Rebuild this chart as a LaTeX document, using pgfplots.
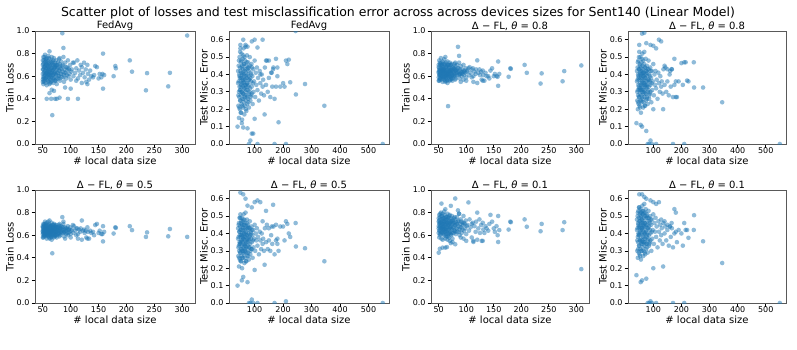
\documentclass[border=0pt]{standalone}
\usepackage{pgfplots}
\pgfplotsset{compat=1.18}
\usepackage{pgfplotstable}
\usepackage{fontspec}
\setmainfont{DejaVu Sans}
\definecolor{tabblue}{HTML}{1F77B4}

\pgfplotstableread{
x fa t8 t5 t1
50 0.62 0.63 0.64 0.66
50 0.70 0.68 0.67 0.72
50 0.57 0.59 0.61 0.62
51 0.77 0.74 0.70 0.78
51 0.66 0.65 0.65 0.70
51 0.53 0.56 0.58 0.58
52 0.74 0.72 0.69 0.76
52 0.60 0.61 0.62 0.64
52 0.68 0.66 0.66 0.71
53 0.56 0.58 0.60 0.61
53 0.72 0.70 0.68 0.74
53 0.64 0.64 0.64 0.68
54 0.79 0.76 0.72 0.80
54 0.58 0.60 0.61 0.63
54 0.69 0.67 0.66 0.71
55 0.62 0.62 0.63 0.66
55 0.75 0.72 0.70 0.77
55 0.54 0.57 0.59 0.57
56 0.67 0.66 0.66 0.70
56 0.71 0.69 0.68 0.74
56 0.59 0.60 0.61 0.63
57 0.63 0.64 0.64 0.67
57 0.76 0.73 0.71 0.79
57 0.52 0.55 0.57 0.56
58 0.65 0.64 0.65 0.68
58 0.70 0.68 0.67 0.73
58 0.57 0.59 0.60 0.62
59 0.61 0.62 0.63 0.65
59 0.73 0.71 0.69 0.75
59 0.66 0.66 0.65 0.70
60 0.55 0.57 0.59 0.60
60 0.68 0.67 0.66 0.72
60 0.78 0.75 0.72 0.81
61 0.62 0.63 0.63 0.66
61 0.59 0.60 0.62 0.63
61 0.72 0.70 0.68 0.75
62 0.64 0.64 0.64 0.69
62 0.53 0.56 0.58 0.57
62 0.82 0.77 0.73 0.83
63 0.69 0.68 0.67 0.72
63 0.60 0.61 0.62 0.64
63 0.75 0.72 0.69 0.76
64 0.57 0.59 0.60 0.61
64 0.66 0.65 0.65 0.70
65 0.71 0.69 0.68 0.74
65 0.63 0.63 0.64 0.67
65 0.55 0.57 0.59 0.59
66 0.67 0.66 0.66 0.71
66 0.77 0.73 0.71 0.79
67 0.61 0.62 0.63 0.65
67 0.73 0.70 0.69 0.76
68 0.58 0.60 0.61 0.62
68 0.65 0.65 0.65 0.69
69 0.70 0.68 0.67 0.73
69 0.54 0.57 0.59 0.58
70 0.62 0.62 0.63 0.66
70 0.76 0.72 0.70 0.78
71 0.67 0.66 0.66 0.70
71 0.59 0.60 0.62 0.63
72 0.72 0.70 0.68 0.75
72 0.64 0.64 0.64 0.68
73 0.56 0.58 0.60 0.60
73 0.69 0.67 0.67 0.72
74 0.61 0.62 0.63 0.65
74 0.74 0.71 0.69 0.77
75 0.66 0.65 0.65 0.70
75 0.53 0.56 0.58 0.57
76 0.70 0.68 0.67 0.73
77 0.63 0.63 0.64 0.67
77 0.58 0.60 0.61 0.62
78 0.68 0.67 0.66 0.71
79 0.75 0.71 0.69 0.76
79 0.60 0.61 0.62 0.64
80 0.65 0.65 0.65 0.69
80 0.71 0.69 0.68 0.74
81 0.56 0.58 0.60 0.61
82 0.67 0.66 0.66 0.70
82 0.62 0.63 0.63 0.66
83 0.73 0.70 0.68 0.76
84 0.59 0.61 0.62 0.63
85 0.69 0.67 0.67 0.72
86 0.64 0.64 0.64 0.68
87 0.77 0.72 0.70 0.79
88 0.61 0.62 0.63 0.65
88 0.55 0.58 0.59 0.60
89 0.66 0.66 0.65 0.70
90 0.72 0.69 0.67 0.74
91 0.63 0.63 0.64 0.67
92 0.58 0.60 0.61 0.62
93 0.68 0.66 0.66 0.71
94 0.65 0.64 0.65 0.69
95 0.74 0.70 0.68 0.77
96 0.60 0.61 0.62 0.64
97 0.66 0.65 0.65 0.70
98 0.62 0.63 0.63 0.66
99 0.70 0.67 0.67 0.73
100 0.57 0.59 0.61 0.61
101 0.64 0.64 0.64 0.68
50 0.66 0.64 0.63 0.68
50 0.74 0.70 0.68 0.75
51 0.59 0.61 0.62 0.64
51 0.71 0.67 0.67 0.73
52 0.63 0.62 0.64 0.67
52 0.55 0.58 0.60 0.60
53 0.68 0.65 0.65 0.71
53 0.77 0.71 0.70 0.79
54 0.61 0.63 0.62 0.66
54 0.65 0.61 0.63 0.69
55 0.70 0.66 0.66 0.72
55 0.58 0.60 0.61 0.62
56 0.63 0.65 0.63 0.67
56 0.75 0.70 0.69 0.77
57 0.67 0.63 0.65 0.70
57 0.60 0.62 0.62 0.65
58 0.72 0.66 0.66 0.75
58 0.62 0.64 0.63 0.66
59 0.56 0.59 0.60 0.61
59 0.69 0.65 0.66 0.72
60 0.64 0.66 0.64 0.68
60 0.61 0.59 0.62 0.65
61 0.76 0.71 0.70 0.78
61 0.66 0.62 0.64 0.70
62 0.58 0.61 0.61 0.63
62 0.70 0.65 0.67 0.73
63 0.63 0.60 0.62 0.67
63 0.54 0.58 0.60 0.59
64 0.73 0.68 0.68 0.76
64 0.61 0.63 0.63 0.65
65 0.67 0.64 0.65 0.71
65 0.59 0.61 0.61 0.63
66 0.63 0.62 0.64 0.67
66 0.70 0.70 0.67 0.73
67 0.56 0.59 0.60 0.61
67 0.65 0.61 0.64 0.69
68 0.72 0.67 0.67 0.75
68 0.61 0.64 0.62 0.65
69 0.66 0.63 0.65 0.70
69 0.74 0.70 0.69 0.77
70 0.58 0.60 0.61 0.62
70 0.68 0.64 0.66 0.71
71 0.63 0.65 0.63 0.67
72 0.56 0.59 0.60 0.61
72 0.68 0.63 0.66 0.72
73 0.62 0.65 0.63 0.66
74 0.70 0.66 0.67 0.73
74 0.57 0.60 0.61 0.62
75 0.63 0.61 0.63 0.67
76 0.67 0.64 0.65 0.71
77 0.72 0.67 0.67 0.75
78 0.60 0.62 0.62 0.64
79 0.65 0.66 0.64 0.69
80 0.58 0.60 0.61 0.63
81 0.69 0.65 0.66 0.72
83 0.62 0.64 0.63 0.66
84 0.66 0.63 0.65 0.70
86 0.70 0.67 0.67 0.73
87 0.59 0.61 0.62 0.63
89 0.63 0.62 0.63 0.67
91 0.68 0.64 0.66 0.72
93 0.61 0.62 0.62 0.65
96 0.67 0.64 0.65 0.71
102 0.66 0.65 0.65 0.69
105 0.60 0.61 0.62 0.64
106 0.72 0.68 0.68 0.74
108 0.63 0.63 0.64 0.67
110 0.56 0.59 0.60 0.58
110 0.67 0.66 0.66 0.70
112 0.74 0.67 0.66 0.71
113 0.58 0.60 0.61 0.55
115 0.65 0.64 0.65 0.68
117 0.61 0.62 0.63 0.63
118 0.70 0.66 0.66 0.72
120 0.54 0.54 0.56 0.56
120 0.68 0.74 0.73 0.80
122 0.63 0.63 0.64 0.66
124 0.72 0.66 0.65 0.74
125 0.59 0.61 0.62 0.62
127 0.66 0.64 0.64 0.69
128 0.55 0.57 0.58 0.55
130 0.70 0.65 0.67 0.71
131 0.62 0.61 0.63 0.65
133 0.57 0.56 0.57 0.62
135 0.65 0.63 0.64 0.68
137 0.60 0.60 0.62 0.66
140 0.59 0.60 0.63 0.64
142 0.61 0.58 0.60 0.70
144 0.69 0.65 0.69 0.78
147 0.68 0.67 0.70 0.72
150 0.58 0.60 0.62 0.66
152 0.62 0.62 0.64 0.63
155 0.59 0.60 0.61 0.68
157 0.62 0.595 0.61 0.60
158 0.80 0.73 0.68 0.77
158 0.49 0.515 0.545 0.54
160 0.61 0.62 0.63 0.645
177 0.60 0.595 0.615 0.65
180 0.69 0.67 0.67 0.72
181 0.67 0.665 0.665 0.715
206 0.74 0.70 0.68 0.74
210 0.64 0.63 0.645 0.675
235 0.475 0.535 0.585 0.635
237 0.627 0.625 0.625 0.70
275 0.51 0.555 0.59 0.645
278 0.63 0.645 0.655 0.715
309 0.96 0.695 0.585 0.30
85 0.98 0.86 0.76 0.82
87 0.85 0.78 0.72 0.79
80 0.76 0.72 0.70 0.925
104 0.72 0.67 0.69 0.89
55 0.73 0.70 0.68 0.88
72 0.70 0.70 0.69 0.86
67 0.255 0.335 0.44 0.59
57 0.40 0.58 0.60 0.49
65 0.40 0.56 0.58 0.495
72 0.40 0.57 0.59 0.53
75 0.40 0.58 0.60 0.54
80 0.41 0.57 0.59 0.52
95 0.40 0.57 0.60 0.57
113 0.40 0.55 0.57 0.54
62 0.45 0.55 0.57 0.49
50 0.55 0.56 0.58 0.445
52 0.58 0.57 0.59 0.48
70 0.47 0.56 0.58 0.55
66 0.48 0.54 0.56 0.56
90 0.50 0.55 0.57 0.58
100 0.49 0.56 0.58 0.55
130 0.53 0.56 0.57 0.55
}\train

\pgfplotstableread{
x fa t8 t5 t1
42 0.35 0.36 0.37 0.42
43 0.22 0.25 0.27 0.30
44 0.45 0.44 0.45 0.50
45 0.30 0.31 0.33 0.38
45 0.15 0.20 0.21 0.26
46 0.40 0.40 0.41 0.46
46 0.27 0.28 0.30 0.35
47 0.50 0.48 0.49 0.53
47 0.33 0.34 0.35 0.40
48 0.20 0.23 0.25 0.29
48 0.38 0.38 0.39 0.44
49 0.44 0.43 0.44 0.49
49 0.25 0.27 0.29 0.33
50 0.57 0.53 0.51 0.55
50 0.31 0.32 0.34 0.39
51 0.36 0.37 0.38 0.43
51 0.18 0.22 0.24 0.28
52 0.47 0.46 0.46 0.51
52 0.28 0.29 0.31 0.36
53 0.41 0.41 0.42 0.47
53 0.34 0.35 0.36 0.41
54 0.23 0.25 0.27 0.31
54 0.52 0.50 0.49 0.54
55 0.38 0.38 0.39 0.45
55 0.30 0.31 0.33 0.37
56 0.45 0.44 0.45 0.50
56 0.14 0.18 0.20 0.25
57 0.26 0.28 0.30 0.34
57 0.40 0.39 0.40 0.46
58 0.33 0.33 0.35 0.40
58 0.49 0.47 0.47 0.52
59 0.21 0.24 0.26 0.30
59 0.37 0.37 0.38 0.43
60 0.43 0.42 0.43 0.48
60 0.29 0.30 0.32 0.36
61 0.55 0.52 0.51 0.56
61 0.35 0.36 0.37 0.42
62 0.24 0.26 0.28 0.32
62 0.46 0.45 0.45 0.51
63 0.32 0.33 0.34 0.39
63 0.39 0.39 0.40 0.45
64 0.17 0.21 0.23 0.27
64 0.50 0.48 0.48 0.53
65 0.27 0.29 0.30 0.35
65 0.42 0.41 0.42 0.47
66 0.34 0.35 0.36 0.41
66 0.22 0.24 0.26 0.30
67 0.48 0.46 0.46 0.52
67 0.37 0.37 0.38 0.44
68 0.30 0.31 0.33 0.37
68 0.56 0.53 0.52 0.57
69 0.25 0.27 0.29 0.33
69 0.41 0.40 0.41 0.46
70 0.33 0.34 0.35 0.40
70 0.45 0.44 0.44 0.50
71 0.19 0.22 0.24 0.28
72 0.38 0.38 0.39 0.44
72 0.28 0.29 0.31 0.35
73 0.51 0.49 0.48 0.54
74 0.35 0.36 0.37 0.42
74 0.23 0.25 0.27 0.31
75 0.43 0.42 0.43 0.49
76 0.31 0.32 0.33 0.38
77 0.47 0.45 0.45 0.51
77 0.26 0.27 0.29 0.34
78 0.39 0.39 0.40 0.45
79 0.34 0.34 0.36 0.40
80 0.21 0.23 0.25 0.29
80 0.44 0.43 0.43 0.49
81 0.29 0.30 0.32 0.36
82 0.37 0.37 0.38 0.43
83 0.50 0.48 0.47 0.53
84 0.32 0.33 0.34 0.39
85 0.25 0.26 0.28 0.33
86 0.41 0.40 0.41 0.47
87 0.36 0.36 0.37 0.42
88 0.28 0.29 0.31 0.35
89 0.46 0.44 0.44 0.50
90 0.33 0.34 0.35 0.40
92 0.39 0.38 0.39 0.45
93 0.23 0.24 0.26 0.30
95 0.43 0.42 0.42 0.48
96 0.30 0.31 0.32 0.37
98 0.36 0.36 0.37 0.42
42 0.42 0.42 0.43 0.48
43 0.28 0.30 0.32 0.36
44 0.36 0.37 0.38 0.43
45 0.48 0.47 0.46 0.52
46 0.21 0.24 0.26 0.31
47 0.39 0.39 0.41 0.45
48 0.31 0.33 0.34 0.39
49 0.53 0.50 0.49 0.55
50 0.25 0.27 0.29 0.33
50 0.42 0.43 0.42 0.47
51 0.33 0.31 0.35 0.40
52 0.38 0.40 0.39 0.44
53 0.18 0.21 0.24 0.27
53 0.48 0.45 0.47 0.52
54 0.30 0.32 0.31 0.36
55 0.44 0.42 0.44 0.49
56 0.35 0.34 0.36 0.42
57 0.22 0.25 0.26 0.30
58 0.41 0.40 0.42 0.48
59 0.29 0.31 0.30 0.35
60 0.51 0.49 0.48 0.53
60 0.36 0.35 0.37 0.43
61 0.26 0.27 0.29 0.34
62 0.40 0.41 0.40 0.46
63 0.46 0.43 0.45 0.51
64 0.32 0.31 0.33 0.38
65 0.37 0.39 0.38 0.44
66 0.28 0.30 0.31 0.35
67 0.43 0.41 0.43 0.49
68 0.34 0.35 0.34 0.40
69 0.20 0.22 0.24 0.29
70 0.39 0.38 0.40 0.46
71 0.31 0.33 0.32 0.37
72 0.47 0.44 0.46 0.52
73 0.35 0.34 0.36 0.41
74 0.27 0.29 0.29 0.34
75 0.40 0.40 0.39 0.45
76 0.44 0.42 0.44 0.50
77 0.33 0.33 0.35 0.39
78 0.24 0.26 0.27 0.32
79 0.42 0.41 0.42 0.47
80 0.37 0.36 0.37 0.43
82 0.30 0.31 0.32 0.37
84 0.45 0.43 0.43 0.49
85 0.38 0.37 0.39 0.44
86 0.27 0.28 0.30 0.34
88 0.40 0.39 0.40 0.46
90 0.29 0.30 0.31 0.36
91 0.44 0.42 0.42 0.48
94 0.35 0.35 0.36 0.41
100 0.48 0.46 0.45 0.51
102 0.27 0.28 0.30 0.34
104 0.41 0.40 0.40 0.46
106 0.34 0.34 0.36 0.41
108 0.44 0.42 0.43 0.49
110 0.31 0.32 0.33 0.38
112 0.38 0.37 0.38 0.44
115 0.25 0.26 0.28 0.32
118 0.42 0.41 0.41 0.47
120 0.35 0.35 0.36 0.41
123 0.29 0.30 0.31 0.36
125 0.40 0.39 0.40 0.45
128 0.33 0.33 0.34 0.39
130 0.37 0.36 0.37 0.43
133 0.28 0.29 0.30 0.34
136 0.44 0.43 0.43 0.46
140 0.34 0.34 0.35 0.40
143 0.48 0.44 0.45 0.44
146 0.30 0.30 0.31 0.36
150 0.38 0.36 0.36 0.42
155 0.27 0.28 0.30 0.33
158 0.41 0.40 0.39 0.44
162 0.33 0.33 0.34 0.38
166 0.44 0.43 0.44 0.43
170 0.26 0.27 0.28 0.32
175 0.33 0.34 0.36 0.40
180 0.39 0.36 0.37 0.41
40 0.10 0.12 0.10 0.16
55 0.12 0.11 0.13 0.12
60 0.095 0.10 0.15 0.13
75 0.09 0.075 0.12 0.14
90 0.06 0.02 0.02 0.01
95 0.06 0.00 0.00 0.00
85 0.02 0.00 0.00 0.00
80 0.00 0.00 0.00 0.00
100 0.145 0.20 0.19 0.20
110 0.00 0.00 0.00 0.00
135 0.17 0.20 0.22 0.21
170 0.00 0.00 0.00 0.00
184 0.125 0.27 0.30 0.35
210 0.00 0.00 0.01 0.00
345 0.22 0.24 0.24 0.23
550 0.00 0.00 0.00 0.00
277 0.345 0.325 0.315 0.355
245 0.285 0.325 0.325 0.505
244 0.65 0.47 0.46 0.42
210 0.48 0.47 0.47 0.46
215 0.46 0.47 0.455 0.42
220 0.485 0.365 0.40 0.42
225 0.355 0.36 0.38 0.375
200 0.35 0.465 0.44 0.40
205 0.33 0.34 0.36 0.33
190 0.33 0.36 0.44 0.42
175 0.49 0.49 0.45 0.54
180 0.44 0.27 0.34 0.52
165 0.43 0.43 0.565 0.46
160 0.41 0.42 0.44 0.44
150 0.48 0.43 0.43 0.45
140 0.48 0.45 0.53 0.47
128 0.60 0.59 0.47 0.48
120 0.40 0.60 0.58 0.58
110 0.555 0.55 0.59 0.57
100 0.60 0.565 0.58 0.58
90 0.59 0.57 0.55 0.59
60 0.60 0.635 0.625 0.625
68 0.57 0.64 0.60 0.61
50 0.55 0.57 0.635 0.625
75 0.56 0.58 0.56 0.60
}\test

\pgfplotsset{
  panel/.style={scale only axis, height=113pt,
    axis line style={black!65, line width=0.8pt},
    tick align=outside, xtick pos=bottom, ytick pos=left,
    major tick length=3.5pt, tick style={black, line width=0.7pt},
    ticklabel style={font=\fontsize{8}{9}\selectfont},
    xticklabel style={yshift=3pt},
    yticklabel style={xshift=1.5pt},
    label style={font=\fontsize{10}{12}\selectfont},
    xlabel style={yshift=4pt},
    ylabel style={yshift=-4pt},
    title style={font=\fontsize{10}{12}\selectfont, yshift=-9pt},
    xlabel={\# local data size},
    clip marker paths=true, scaled ticks=false,
    /pgf/number format/assume math mode=true},
  trainax/.style={panel, xmin=36, xmax=323, ymin=0, ymax=1,
    xtick={50,100,150,200,250,300}, ytick={0,0.2,0.4,0.6,0.8,1.0},
    ylabel={Train Loss},
    yticklabel style={/pgf/number format/.cd, fixed, fixed zerofill, precision=1}},
  testax/.style={panel, xmin=10, xmax=572, ymin=0, ymax=0.65,
    xtick={100,200,300,400,500}, ytick={0,0.1,0.2,0.3,0.4,0.5,0.6},
    ylabel={Test Misc. Error},
    yticklabel style={/pgf/number format/.cd, fixed, fixed zerofill, precision=1}},
  dots/.style={only marks, mark=*, mark size=2.3pt, color=tabblue,
    mark options={draw opacity=0, fill opacity=0.5}}
}

\begin{document}
\begin{tikzpicture}
\path[use as bounding box] (0pt,0pt) rectangle (797pt,349pt);
\node[font=\fontsize{12.5}{14}\selectfont] at (398pt,336pt) {Scatter plot of losses and test misclassification error across across devices sizes for Sent140 (Linear Model)};

\begin{axis}[trainax, at={(35pt,205pt)}, anchor=south west, width=160pt, title={FedAvg}]
\addplot[dots] table[x=x, y=fa] {\train};
\end{axis}
\begin{axis}[testax, at={(229pt,205pt)}, anchor=south west, width=160pt, title={FedAvg}]
\addplot[dots] table[x=x, y=fa] {\test};
\end{axis}
\begin{axis}[trainax, at={(431pt,205pt)}, anchor=south west, width=158pt, title={Δ − FL, \textit{θ} = 0.8}]
\addplot[dots] table[x=x, y=t8] {\train};
\end{axis}
\begin{axis}[testax, at={(628pt,205pt)}, anchor=south west, width=158pt, title={Δ − FL, \textit{θ} = 0.8}]
\addplot[dots] table[x=x, y=t8] {\test};
\end{axis}

\begin{axis}[trainax, at={(35pt,46pt)}, anchor=south west, width=160pt, title={Δ − FL, \textit{θ} = 0.5}]
\addplot[dots] table[x=x, y=t5] {\train};
\end{axis}
\begin{axis}[testax, at={(229pt,46pt)}, anchor=south west, width=160pt, title={Δ − FL, \textit{θ} = 0.5}]
\addplot[dots] table[x=x, y=t5] {\test};
\end{axis}
\begin{axis}[trainax, at={(431pt,46pt)}, anchor=south west, width=158pt, title={Δ − FL, \textit{θ} = 0.1}]
\addplot[dots] table[x=x, y=t1] {\train};
\end{axis}
\begin{axis}[testax, at={(628pt,46pt)}, anchor=south west, width=158pt, title={Δ − FL, \textit{θ} = 0.1}]
\addplot[dots] table[x=x, y=t1] {\test};
\end{axis}
\end{tikzpicture}
\end{document}
